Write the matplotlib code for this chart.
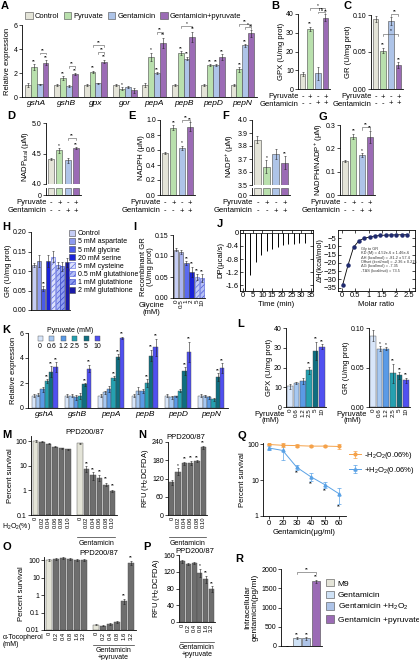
import numpy as np
import matplotlib
matplotlib.use('Agg')
import matplotlib.pyplot as plt
from matplotlib.patches import Patch, Rectangle
import matplotlib.transforms as mtransforms

plt.rcParams['font.family'] = ['Liberation Sans', 'DejaVu Sans']
plt.rcParams['mathtext.default'] = 'regular'
plt.rcParams['hatch.linewidth'] = 0.5
plt.rcParams['axes.linewidth'] = 0.6

# ---------------- data ----------------
groups4 = ['Control', 'Pyruvate', 'Gentamicin', 'Gentamicin+pyruvate']
pyr_signs = ['-', '+', '-', '+']
gen_signs = ['-', '-', '+', '+']

# A
genes_a = ['gshA', 'gshB', 'gpx', 'gor', 'pepA', 'pepB', 'pepD', 'pepN']
a_ctrl = [1.0, 1.0, 1.0, 1.0, 1.0, 1.0, 1.0, 1.0]
a_pyr = [2.5, 1.6, 2.1, 0.7, 3.35, 3.65, 2.65, 2.3]
a_gen = [1.05, 0.9, 1.15, 0.85, 2.0, 3.2, 2.65, 4.3]
a_gp = [2.85, 1.9, 2.95, 0.55, 4.5, 5.0, 3.3, 5.3]
a_ctrl_err = [0.15, 0.05, 0.05, 0.05, 0.2, 0.08, 0.05, 0.05]
a_pyr_err = [0.25, 0.15, 0.1, 0.1, 0.35, 0.15, 0.1, 0.2]
a_gen_err = [0.05, 0.1, 0.05, 0.1, 0.08, 0.15, 0.1, 0.1]
a_gp_err = [0.2, 0.1, 0.15, 0.2, 0.45, 0.45, 0.25, 0.3]
a_sig = [['', '', '', '', '', '', '', ''],
         ['**', '**', '**', '*', '*', '**', '**', '**'],
         ['', '', '', '', '**', '**', '**', '**'],
         ['**', '**', '**', '', '**', '**', '**', '**']]

# B-G
gpx_b = [8, 32, 8.5, 38]
gpx_b_err = [1, 1.2, 3.5, 1.8]
gr_c = [0.095, 0.052, 0.092, 0.032]
gr_c_err = [0.004, 0.004, 0.005, 0.004]
nadp_tot = [4.41, 4.55, 4.39, 4.59]
nadp_tot_err = [0.02, 0.04, 0.04, 0.015]
nadph = [0.56, 0.90, 0.63, 0.91]
nadph_err = [0.01, 0.03, 0.03, 0.06]
nadp = [3.85, 3.64, 3.74, 3.67]
nadp_err = [0.03, 0.05, 0.04, 0.05]
ratio = [0.145, 0.25, 0.17, 0.25]
ratio_err = [0.003, 0.012, 0.008, 0.025]
sig4 = ['', '**', '', '**']

# H
h_labels = ['Control', '5 mM aspartate', '5 mM glycine', '20 mM serine', '5 mM cysteine',
            '0.5 mM glutathione', '1 mM glutathione', '2 mM glutathione']
h_vals = [0.115, 0.125, 0.055, 0.125, 0.137, 0.115, 0.112, 0.122]
h_err = [0.005, 0.015, 0.006, 0.015, 0.015, 0.008, 0.012, 0.012]

# I
gly_conc = ['0', '0.5', '1', '2', '5', '10']
i_vals = [0.115, 0.11, 0.083, 0.062, 0.05, 0.047]
i_err = [0.003, 0.005, 0.004, 0.012, 0.008, 0.01]
i_sig = ['', '', '**', '**', '**', '**']

# J
inj_t = [1.0, 3.8, 6.6, 9.4, 12.2, 15.0, 17.8, 20.6, 23.4, 26.2, 29.0, 31.8]
inj_depth = [-1.78, -1.3, -0.9, -0.68, -0.55, -0.48, -0.42, -0.38, -0.35, -0.33, -0.32, -0.3]
molar_ratio = [0.02, 0.22, 0.43, 0.63, 0.83, 1.03, 1.23, 1.43, 1.63, 1.83, 2.03, 2.23, 2.43]
delta_h = [-33.5, -21.5, -10.5, -6.5, -5.0, -4.2, -3.6, -3.3, -3.1, -3.0, -2.9, -2.9, -2.8]

# K
genes_k = ['gshA', 'gshB', 'pepA', 'pepB', 'pepD', 'pepN']
pyr_conc = ['0', '0.6', '1.2', '2.5', '5', '10']
k_vals = [[1.0, 1.0, 1.0, 1.0, 1.0, 1.0],
          [1.05, 1.0, 1.25, 1.4, 0.85, 0.95],
          [1.5, 0.85, 1.55, 1.35, 0.95, 0.85],
          [2.15, 0.95, 2.4, 2.0, 1.4, 0.7],
          [2.9, 1.9, 4.1, 4.2, 2.95, 2.5],
          [3.25, 3.15, 5.6, 4.85, 4.5, 3.2]]
k_err = [[0.1, 0.1, 0.1, 0.15, 0.15, 0.1],
         [0.12, 0.1, 0.1, 0.25, 0.15, 0.1],
         [0.2, 0.2, 0.25, 0.15, 0.05, 0.1],
         [0.15, 0.25, 0.15, 0.3, 0.1, 0.1],
         [0.45, 0.1, 0.2, 0.45, 0.3, 0.3],
         [0.4, 0.3, 0.1, 0.7, 0.8, 0.4]]

# L
gpx_l = [10.5, 12.2, 13.0, 18.5, 28.5, 30.5]
gpx_l_err = [1.3, 0.6, 1.5, 1.8, 4.5, 1.2]
gr_l = [0.09, 0.074, 0.074, 0.043, 0.04, 0.034]
gr_l_err = [0.007, 0.003, 0.002, 0.012, 0.004, 0.003]

# M, N
h2o2_conc = ['0', '0.02', '0.04', '0.06', '0.08', '0.10']
m_nogen = [100, 95, 78, 60, 50, 46]
m_gen = [80, 7.5, 4.2, 3.3, 1.7, 0.95]
n_vals = [108, 143, 170, 172, 177, 222]
n_err = [8, 10, 5, 6, 3, 6]

# Q
gent_q = ['0', '20', '30', '40', '50', '60']
q_minus = [100, 95, 93, 90, 90, 88]
q_minus_err = [5, 12, 8, 6, 6, 12]
q_plus = [80, 68, 23, 12.5, 7.5, 4.2]
q_plus_err = [8, 30, 4, 3, 1.5, 2]

# O, P
toco_conc = ['0', '0.2', '0.4', '0.8', '1.6', '3.2']
o_nogen = [100, 110, 130, 110, 105, 100]
o_gen = [0.02, 0.018, 0.022, 0.028, 0.45, 70]
p_vals = [145, 138, 141, 117, 102, 79]
p_err = [3, 2, 3, 10, 8, 7]

# R
r_labels = ['M9', 'Gentamicin', 'Gentamicin +H$_2$O$_2$', 'Gentamicin +pyruvate']
r_vals = [5, 200, 195, 1680]
r_err = [2, 30, 30, 40]

# ---------------- style ----------------
W, H = 419, 660
fig = plt.figure(figsize=(W / 100, H / 100), dpi=100)

col4 = ['#e4e4d8', '#b9e0ad', '#aec4e8', '#9b6bb5']
colk = ['#d8e6fa', '#a6c8f2', '#5a9ae6', '#25a0b0', '#0f6e80', '#5050f0']
GRAY = '#6e6e6e'
EDGE = '#4a4a4a'
ERR = dict(ecolor='#222222', elinewidth=0.4, capsize=1.0, capthick=0.4)
TICK = 5
LAB = 5.5


def add_ax(x0, y0, x1, y1, box=False):
    ax = fig.add_axes([x0 / W, 1 - y1 / H, (x1 - x0) / W, (y1 - y0) / H])
    if not box:
        ax.spines[['top', 'right']].set_visible(False)
    ax.tick_params(labelsize=TICK, length=2, width=0.5, pad=1)
    ax.minorticks_off()
    return ax


def letter(x, y, s):
    fig.text(x / W, 1 - y / H, s, fontsize=8, fontweight='bold', va='top', ha='left')


def ftext(x, y, s, **kw):
    kw.setdefault('fontsize', LAB)
    fig.text(x / W, 1 - y / H, s, **kw)


def stars(ax, xs, tops, marks):
    for x, t, m in zip(xs, tops, marks):
        if m:
            ax.annotate(m, (x, t), xytext=(0, 0.3), textcoords='offset points',
                        ha='center', va='bottom', fontsize=3.5, clip_on=False)


def bracket(ax, x1, x2, y, s, h):
    ax.plot([x1, x1, x2, x2], [y - h, y, y, y - h], color='#555555', lw=0.4, clip_on=False)
    ax.text((x1 + x2) / 2, y, s, ha='center', va='bottom', fontsize=3.5)


def pm_rows(ax, y1, y2):
    tr = mtransforms.blended_transform_factory(ax.transData, fig.transFigure)
    for i, (p, g) in enumerate(zip(pyr_signs, gen_signs)):
        ax.text(i, 1 - y1 / H, p, transform=tr, ha='center', va='center', fontsize=LAB)
        ax.text(i, 1 - y2 / H, g, transform=tr, ha='center', va='center', fontsize=LAB)
    ax.text(-0.5, 1 - y1 / H, 'Pyruvate', transform=tr, ha='right', va='center', fontsize=LAB)
    ax.text(-0.5, 1 - y2 / H, 'Gentamicin', transform=tr, ha='right', va='center', fontsize=LAB)


def bars4(ax, vals, errs, sig=sig4):
    x = np.arange(4)
    ax.bar(x, vals, 0.75, color=col4, edgecolor=EDGE, lw=0.4, yerr=errs, error_kw=ERR)
    stars(ax, x, np.array(vals) + np.array(errs), sig)
    ax.set_xlim(-0.6, 3.6)
    ax.set_xticks([])


def group_line(ax, x1, x2, y, text, ty):
    tr = mtransforms.blended_transform_factory(ax.transData, fig.transFigure)
    ax.plot([x1, x2], [1 - y / H] * 2, transform=tr, color='#333333', lw=0.5, clip_on=False)
    ax.text((x1 + x2) / 2, 1 - ty / H, text, transform=tr, ha='center', va='top',
            fontsize=5, linespacing=0.95)


def log_ticks(ax, ticks, labels):
    ax.set_yticks(ticks)
    ax.set_yticklabels(labels)
    ax.yaxis.set_minor_locator(matplotlib.ticker.NullLocator())


# ---------------- A ----------------
letter(1, 1, 'A')
ax = add_ax(22, 25, 257, 97)
xg = np.arange(len(genes_a))
bw = 0.2
for k, (vals, errs) in enumerate(zip([a_ctrl, a_pyr, a_gen, a_gp],
                                     [a_ctrl_err, a_pyr_err, a_gen_err, a_gp_err])):
    xs = xg + (k - 1.5) * bw
    ax.bar(xs, vals, bw, color=col4[k], edgecolor=EDGE, lw=0.4, yerr=errs, error_kw=ERR)
    stars(ax, xs, np.array(vals) + np.array(errs), a_sig[k])
ax.set_xlim(-0.5, 7.5)
ax.set_ylim(0, 6)
ax.set_yticks([0, 2, 4, 6])
ax.set_xticks(xg)
ax.set_xticklabels(genes_a, style='italic', fontsize=6)
ax.tick_params(axis='x', length=0, pad=2)
ax.set_ylabel('Relative expression', fontsize=LAB, labelpad=2)
for g, k1, k2, yb, s in [(0, 2, 3, 3.7, '**'), (1, 2, 3, 2.6, '**'), (2, 1, 3, 4.3, '**'),
                         (2, 2, 3, 3.75, '**'), (4, 2, 3, 5.4, '**'), (5, 1, 3, 5.9, '*'),
                         (7, 1, 3, 6.05, '**'), (7, 2, 3, 5.8, '*')]:
    bracket(ax, g + (k1 - 1.5) * bw, g + (k2 - 1.5) * bw, yb, s, h=0.15)
fig.legend([Patch(facecolor=c, edgecolor=EDGE, lw=0.4) for c in col4], groups4,
           loc='upper left', bbox_to_anchor=(25 / W, 1 - 12 / H), ncol=4, frameon=False,
           fontsize=5.4, handlelength=1.0, handleheight=1.0, handletextpad=0.3,
           columnspacing=0.6, borderpad=0, borderaxespad=0)

# ---------------- B ----------------
letter(271, 1, 'B')
ax = add_ax(298, 14, 330, 89)
bars4(ax, gpx_b, gpx_b_err)
ax.set_ylim(0, 40)
ax.set_yticks([0, 10, 20, 30, 40])
ax.set_ylabel('GPX (U/mg prot)', fontsize=LAB, labelpad=1)
bracket(ax, 1, 3, 43.3, '*', h=1.2)
bracket(ax, 2, 3, 41.3, 'ns', h=1.0)
pm_rows(ax, 97, 104)

# ---------------- C ----------------
letter(343, 1, 'C')
ax = add_ax(371, 15, 403, 89)
bars4(ax, gr_c, gr_c_err)
ax.set_ylim(0, 0.10)
ax.set_yticks([0, 0.05, 0.10])
ax.set_yticklabels(['0.00', '0.05', '0.10'])
ax.set_ylabel('GR (U/mg prot)', fontsize=LAB, labelpad=1)
bracket(ax, 1, 3, 0.075, '*', h=0.003)
bracket(ax, 2, 3, 0.101, '**', h=0.003)
pm_rows(ax, 97, 104)

# ---------------- D (broken) ----------------
letter(7, 111, 'D')
ax = add_ax(46, 123, 81, 184)
bars4(ax, nadp_tot, nadp_tot_err, ['', '*', '', '**'])
ax.set_ylim(4.0, 5.0)
ax.set_yticks([4.0, 4.5, 5.0])
ax.set_yticklabels(['4.0', '4.5', '5.0'])
ax.spines['bottom'].set_visible(False)
ax.set_ylabel('NADP$_{total}$ (μM)', fontsize=LAB, labelpad=1, y=0.45)
bracket(ax, 2, 3, 4.75, '**', h=0.03)
axb = add_ax(46, 188, 81, 195)
axb.bar(np.arange(4), [1, 1, 1, 1], 0.75, color=col4, edgecolor=EDGE, lw=0.4)
axb.set_xlim(-0.6, 3.6)
axb.set_ylim(0, 1)
axb.set_yticks([0])
axb.set_xticks([])
pm_rows(axb, 203, 211)

# ---------------- E ----------------
letter(128, 111, 'E')
ax = add_ax(160, 120, 195, 195)
bars4(ax, nadph, nadph_err, ['', '**', '*', '**'])
ax.set_ylim(0, 1.0)
ax.set_yticks([0, 0.2, 0.4, 0.6, 0.8, 1.0])
ax.set_ylabel('NADPH (μM)', fontsize=LAB, labelpad=1)
bracket(ax, 2, 3, 1.0, '**', h=0.03)
pm_rows(ax, 203, 211)

# ---------------- F (broken) ----------------
letter(222, 111, 'F')
ax = add_ax(252, 120, 290, 185)
bars4(ax, nadp, nadp_err, ['', '*', '', '**'])
ax.set_ylim(3.5, 4.0)
ax.set_yticks([3.5, 3.6, 3.7, 3.8, 3.9, 4.0])
ax.spines['bottom'].set_visible(False)
ax.set_ylabel('NADP$^{+}$ (μM)', fontsize=LAB, labelpad=1, y=0.45)
axb = add_ax(252, 188, 290, 195)
axb.bar(np.arange(4), [1, 1, 1, 1], 0.75, color=col4, edgecolor=EDGE, lw=0.4)
axb.set_xlim(-0.6, 3.6)
axb.set_ylim(0, 1)
axb.set_yticks([0])
axb.set_yticklabels(['0.0'])
axb.set_xticks([])
pm_rows(axb, 203, 211)

# ---------------- G ----------------
letter(318, 112, 'G')
ax = add_ax(340, 125, 375, 195)
bars4(ax, ratio, ratio_err, ['', '**', '*', '**'])
ax.set_ylim(0, 0.3)
ax.set_yticks([0, 0.1, 0.2, 0.3])
ax.set_ylabel('NADPH/NADP$^{+}$ (μM)', fontsize=LAB, labelpad=1)
bracket(ax, 2, 3, 0.29, '**', h=0.01)
pm_rows(ax, 203, 211)

# ---------------- H ----------------
letter(2, 222, 'H')
h_face = ['#c5cdf5', '#8e9cf0', '#4a5ae8', '#1a22d8', '#dde2fb', '#b5bff5', '#8e9cf0', '#1a1aa8']
h_hatch = [None, None, None, None, '//////', '//////', '//////', None]
h_edge = [EDGE, EDGE, EDGE, EDGE, '#5a68e0', '#4a58d8', '#3040c8', EDGE]
ax = add_ax(31, 232, 70, 310)
xh = np.arange(len(h_vals))
for i in xh:
    ax.bar(i, h_vals[i], 0.85, color=h_face[i], edgecolor=h_edge[i], hatch=h_hatch[i], lw=0.4,
           yerr=h_err[i], error_kw=ERR)
stars(ax, xh, np.array(h_vals) + np.array(h_err), ['', '', '**', '', '', '', '', ''])
ax.set_xlim(-0.6, 7.6)
ax.set_ylim(0, 0.20)
ax.set_yticks([0, 0.05, 0.10, 0.15, 0.20])
ax.set_yticklabels(['0.00', '0.05', '0.10', '0.15', '0.20'])
ax.set_xticks([])
ax.set_ylabel('GR (U/mg prot)', fontsize=LAB, labelpad=1)
fig.legend([Patch(facecolor=h_face[i], edgecolor=h_edge[i], hatch=h_hatch[i], lw=0.4)
            for i in xh], h_labels,
           loc='upper left', bbox_to_anchor=(69 / W, 1 - 230 / H), frameon=False, fontsize=5,
           handlelength=0.9, handleheight=0.9, handletextpad=0.4, labelspacing=0.12,
           borderpad=0, borderaxespad=0)

# ---------------- I ----------------
letter(133, 222, 'I')
i_face = ['#c5cdf5', '#aab4f0', '#5a6af0', '#1a22d8', '#c5cdf5', '#b5bff5']
i_hatch = [None, None, None, None, '//////', '//////']
i_edge = [EDGE, EDGE, EDGE, EDGE, '#5a68e0', '#4a58d8']
ax = add_ax(173, 235, 205, 298)
xi = np.arange(len(i_vals))
for i in xi:
    ax.bar(i, i_vals[i], 0.85, color=i_face[i], edgecolor=i_edge[i], hatch=i_hatch[i], lw=0.4,
           yerr=i_err[i], error_kw=ERR)
stars(ax, xi, np.array(i_vals) + np.array(i_err), i_sig)
ax.set_xlim(-0.6, 5.6)
ax.set_ylim(0, 0.15)
ax.set_yticks([0, 0.05, 0.10, 0.15])
ax.set_yticklabels(['0.00', '0.05', '0.10', '0.15'])
ax.set_xticks(xi)
ax.set_xticklabels(gly_conc, rotation=90, fontsize=4.5)
ax.tick_params(axis='x', length=0)
ax.set_ylabel('Recombinant GR\n(U/mg prot)', fontsize=LAB, labelpad=1, linespacing=0.95)
ftext(151, 302, 'Glycine\n(mM)', ha='center', va='top', linespacing=0.95)

# ---------------- J ----------------
letter(217, 219, 'J')
ax = add_ax(240, 230, 313, 291, box=True)
ax.plot([-1, 36], [0, 0], color='black', lw=0.5)
ax.vlines(inj_t, inj_depth, 0, color='black', lw=0.7)
ax.set_xlim(-1.5, 36)
ax.set_ylim(-1.78, 0.09)
ax.set_xticks([0, 5, 10, 15, 20, 25, 30, 35])
ax.set_yticks([0, -0.4, -0.8, -1.2, -1.6])
ax.set_yticklabels(['0', '-0.4', '-0.8', '-1.2', '-1.6'])
ax.tick_params(direction='in', top=True, right=True, labelsize=5.5)
ax.set_xlabel('Time (min)', fontsize=LAB, labelpad=1)
ax.set_ylabel('DP(μcal/s)', fontsize=LAB, labelpad=1)

ax = add_ax(338, 230, 415, 291, box=True)
ax.plot(molar_ratio, delta_h, color='black', lw=0.6)
ax.plot(molar_ratio, delta_h, 'o', color='#1f2a6e', ms=2.2)
ax.set_xlim(-0.15, 2.72)
ax.set_ylim(-37, 0)
ax.set_xticks([0, 0.5, 1, 1.5, 2, 2.5])
ax.set_xticklabels(['0', '0.5', '1', '1.5', '2', '2.5'])
ax.set_yticks([-5, -10, -15, -20, -25, -30, -35])
ax.tick_params(direction='in', top=True, right=True, labelsize=5.5)
ax.set_xlabel('Molar ratio', fontsize=LAB, labelpad=1)
ax.set_ylabel('ΔH(kcal/mol)', fontsize=LAB, labelpad=0)
ax.text(0.3, 0.72, 'Gly to GR\nKD (M) = 4.52e-6 ± 1.46e-6\nΔH (kcal/mol) = -81.2 ± 57.4\n'
        'Offset (kcal/mol) = -2.36 ± 0.215\nΔG (kcal/mol) = -7.35\n-TΔS (kcal/mol) = 73.5',
        transform=ax.transAxes, fontsize=2.8, va='top', ha='left', linespacing=1.1, color='#333333')

# ---------------- K ----------------
letter(2, 325, 'K')
ax = add_ax(28, 333, 228, 408)
xg = np.arange(len(genes_k))
bw = 0.13
for k in range(6):
    xs = xg + (k - 2.5) * bw
    ax.bar(xs, k_vals[k], bw, color=colk[k], edgecolor=EDGE, lw=0.3, yerr=k_err[k], error_kw=ERR)
    if k > 0:
        stars(ax, xs, np.array(k_vals[k]) + np.array(k_err[k]),
              ['**' if v > 1.8 else '' for v in k_vals[k]])
ax.set_xlim(-0.5, 5.5)
ax.set_ylim(0, 6)
ax.set_yticks([0, 2, 4, 6])
ax.set_xticks(xg)
ax.set_xticklabels(genes_k, style='italic', fontsize=6)
ax.tick_params(axis='x', length=0, pad=2)
ax.set_ylabel('Relative expression', fontsize=LAB, labelpad=2)
ftext(70, 330, 'Pyruvate (mM)', ha='center', va='center', fontsize=5)
for cx, c, lab in zip([40, 51.5, 63, 74.5, 86, 97.5], colk, pyr_conc):
    fig.add_artist(Rectangle(((cx - 2.5) / W, 1 - 341 / H), 5 / W, 5 / H, transform=fig.transFigure,
                             facecolor=c, edgecolor=EDGE, lw=0.3))
    ftext(cx, 346, lab, ha='center', va='center', fontsize=5)

# ---------------- L ----------------
letter(237, 319, 'L')
xl = np.arange(6)
ax = add_ax(286, 328, 326, 407)
ax.bar(xl, gpx_l, 0.85, color=colk, edgecolor=EDGE, lw=0.3, yerr=gpx_l_err, error_kw=ERR)
stars(ax, xl, np.array(gpx_l) + np.array(gpx_l_err), ['', '', '', '**', '**', '**'])
ax.set_xlim(-0.6, 5.6)
ax.set_ylim(0, 40)
ax.set_yticks([0, 10, 20, 30, 40])
ax.set_xticks(xl)
ax.set_xticklabels(pyr_conc, rotation=90, fontsize=4.5)
ax.tick_params(axis='x', length=0)
ax.set_ylabel('GPX (U/mg prot)', fontsize=LAB, labelpad=1)
ftext(270, 411, 'Pyruvate\n(mM)', ha='center', va='top', linespacing=0.9)
ax = add_ax(369, 328, 410, 407)
ax.bar(xl, gr_l, 0.85, color=colk, edgecolor=EDGE, lw=0.3, yerr=gr_l_err, error_kw=ERR)
stars(ax, xl, np.array(gr_l) + np.array(gr_l_err), ['', '*', '*', '**', '**', '**'])
ax.set_xlim(-0.6, 5.6)
ax.set_ylim(0, 0.10)
ax.set_yticks([0, 0.05, 0.10])
ax.set_yticklabels(['0.00', '0.05', '0.10'])
ax.set_xticks(xl)
ax.set_xticklabels(pyr_conc, rotation=90, fontsize=4.5)
ax.tick_params(axis='x', length=0)
ax.set_ylabel('GR (U/mg prot)', fontsize=LAB, labelpad=1)
ftext(352, 411, 'Pyruvate\n(mM)', ha='center', va='top', linespacing=0.9)

# ---------------- M ----------------
letter(2, 430, 'M')
ax = add_ax(31, 436, 117, 515)
lo = 0.1
x1 = np.arange(6)
x2 = np.arange(6) + 6.8
cols_m = ['#e4e4d8'] + [GRAY] * 5
ax.bar(x1, np.array(m_nogen) - lo, 0.85, bottom=lo, color=cols_m, edgecolor=EDGE, lw=0.3,
       yerr=np.array(m_nogen) * 0.06, error_kw=ERR)
ax.bar(x2, np.array(m_gen) - lo, 0.85, bottom=lo, color=cols_m, edgecolor=EDGE, lw=0.3,
       yerr=np.array(m_gen) * [0.06, 0.25, 0.35, 0.3, 0.15, 0.08], error_kw=ERR)
ax.set_yscale('log')
ax.set_ylim(0.1, 160)
log_ticks(ax, [0.1, 1, 10, 100], ['0.1', '1', '10', '100'])
stars(ax, x2[1:], np.array(m_gen[1:]) * 1.3, ['**'] * 5)
ax.set_xlim(-0.7, 12.5)
ax.set_xticks(np.concatenate([x1, x2]))
ax.set_xticklabels(h2o2_conc * 2, rotation=90, fontsize=4.2)
ax.tick_params(axis='x', length=0)
ax.set_ylabel('Percent survival', fontsize=LAB, labelpad=1)
ax.set_title('PPD200/87', fontsize=5.5, pad=1, x=0.62)
ftext(2, 527, 'H$_2$O$_2$(%)', ha='left', va='center', fontsize=5)
group_line(ax, x2[0] - 0.4, x2[-1] + 0.4, 537, 'Gentamicin', 540)

# ---------------- N ----------------
letter(138, 430, 'N')
ax = add_ax(168, 442, 207, 515)
xn = np.arange(6)
ax.bar(xn, n_vals, 0.85, color=GRAY, edgecolor=EDGE, lw=0.3, yerr=n_err, error_kw=ERR)
stars(ax, xn, np.array(n_vals) + np.array(n_err), ['', '*', '**', '**', '**', '**'])
ax.set_xlim(-0.6, 5.6)
ax.set_ylim(0, 240)
ax.set_yticks([0, 60, 120, 180, 240])
ax.set_xticks(xn)
ax.set_xticklabels(h2o2_conc, rotation=90, fontsize=4.2)
ax.tick_params(axis='x', length=0)
ax.set_ylabel('RFU (H$_2$DCFDA)', fontsize=LAB, labelpad=1)
ax.set_title('PPD200/87', fontsize=5.5, pad=2, x=0.45)
group_line(ax, -0.4, 5.4, 537, 'Gentamicin', 540)

# ---------------- Q ----------------
letter(237, 431, 'Q')
ax = add_ax(263, 443, 346, 516)
xq = np.arange(6)
ax.errorbar(xq, q_minus, yerr=q_minus_err, color='#f5a24a', marker='o', ms=2, lw=0.7,
            elinewidth=0.5, capsize=1.2, capthick=0.5, label='-H$_2$O$_2$(0.06%)')
ax.errorbar(xq, q_plus, yerr=q_plus_err, color='#5aa2e6', marker='^', ms=2.2, lw=0.7,
            elinewidth=0.5, capsize=1.2, capthick=0.5, label='+H$_2$O$_2$(0.06%)')
ax.set_yscale('log')
ax.set_ylim(1, 110)
log_ticks(ax, [1, 10, 100], ['1', '10', '100'])
for x, v, e in zip(xq[2:], q_plus[2:], q_plus_err[2:]):
    ax.text(x, v - e, '**', ha='center', va='top', fontsize=3.5)
ax.set_xlim(-0.4, 5.5)
ax.set_xticks(xq)
ax.set_xticklabels(gent_q, fontsize=5.5)
ax.set_xlabel('Gentamicin(μg/ml)', fontsize=LAB, labelpad=1)
ax.set_ylabel('Percent survival', fontsize=LAB, labelpad=1)
ax.legend(loc='upper left', bbox_to_anchor=(349 / W, 1 - 450 / H), bbox_transform=fig.transFigure,
          frameon=False, fontsize=5.5, handlelength=1.6, handletextpad=0.4, labelspacing=0.5,
          borderpad=0, borderaxespad=0)

# ---------------- O ----------------
letter(2, 542, 'O')
ax = add_ax(44, 557, 136, 630)
lo = 0.01
x1 = np.arange(6)
x2 = np.arange(6) + 6.8
ax.bar(x1, np.array(o_nogen) - lo, 0.85, bottom=lo, color=cols_m, edgecolor=EDGE, lw=0.3,
       yerr=np.array(o_nogen) * 0.12, error_kw=ERR)
ax.bar(x2, np.array(o_gen) - lo, 0.85, bottom=lo, color=cols_m, edgecolor=EDGE, lw=0.3,
       yerr=np.array(o_gen) * [0.08, 0.05, 0.1, 0.12, 0.35, 0.25], error_kw=ERR)
ax.set_yscale('log')
ax.set_ylim(0.01, 150)
log_ticks(ax, [0.01, 0.1, 1, 10, 100], ['0.01', '0.1', '1', '10', '100'])
stars(ax, x2[4:], np.array(o_gen[4:]) * 1.45, ['**', '**'])
ax.set_xlim(-0.7, 12.5)
ax.set_xticks(np.concatenate([x1, x2]))
ax.set_xticklabels(toco_conc * 2, rotation=90, fontsize=4.2)
ax.tick_params(axis='x', length=0)
ax.set_ylabel('Percent survival', fontsize=LAB, labelpad=1)
ax.set_title('PPD200/87', fontsize=5.5, pad=1, x=0.6)
ftext(3, 641, 'α-Tocopherol\n(mM)', ha='left', va='center', fontsize=5, linespacing=0.95)
group_line(ax, x2[0] - 0.4, x2[-1] + 0.4, 645, 'Gentamicin\n+pyruvate', 647)

# ---------------- P ----------------
letter(143, 542, 'P')
ax = add_ax(179, 555, 215, 622)
xp = np.arange(6)
ax.bar(xp, p_vals, 0.85, color=GRAY, edgecolor=EDGE, lw=0.3, yerr=p_err, error_kw=ERR)
stars(ax, xp, np.array(p_vals) + np.array(p_err), ['', '', '', '*', '**', '**'])
ax.set_xlim(-0.6, 5.6)
ax.set_ylim(0, 160)
ax.set_yticks([0, 40, 80, 120, 160])
ax.set_xticks(xp)
ax.set_xticklabels(toco_conc, rotation=90, fontsize=4.2)
ax.tick_params(axis='x', length=0)
ax.set_ylabel('RFU (H$_2$DCFDA)', fontsize=LAB, labelpad=1)
ax.set_title('PPD200/87', fontsize=5.5, pad=1, x=0.45)
group_line(ax, -0.4, 5.4, 642, 'Gentamicin\n+pyruvate', 644)

# ---------------- R ----------------
letter(235, 554, 'R')
r_cols = ['#e4e4d8', '#cfe2f6', '#aec4e8', '#9b6bb5']
ax = add_ax(281, 569, 322, 646)
xr = np.arange(4)
ax.bar(xr, r_vals, 0.8, color=r_cols, edgecolor=EDGE, lw=0.4, yerr=r_err, error_kw=ERR)
stars(ax, xr, np.array(r_vals) + np.array(r_err), ['', '**', '**', '**'])
bracket(ax, 1, 3, 1930, '**', h=60)
ax.set_xlim(-0.6, 3.6)
ax.set_ylim(0, 2000)
ax.set_yticks([0, 500, 1000, 1500, 2000])
ax.set_xticks([])
ax.set_ylabel('Intracellular\ngentamicin(pg/ml)', fontsize=6, labelpad=2, linespacing=1.1)
fig.legend([Patch(facecolor=c, edgecolor=EDGE, lw=0.4) for c in r_cols], r_labels,
           loc='upper left', bbox_to_anchor=(326 / W, 1 - 579 / H), frameon=False, fontsize=6,
           handlelength=1.0, handleheight=1.0, handletextpad=0.4, labelspacing=0.35,
           borderpad=0, borderaxespad=0)

fig.savefig('out.png', dpi=100)
